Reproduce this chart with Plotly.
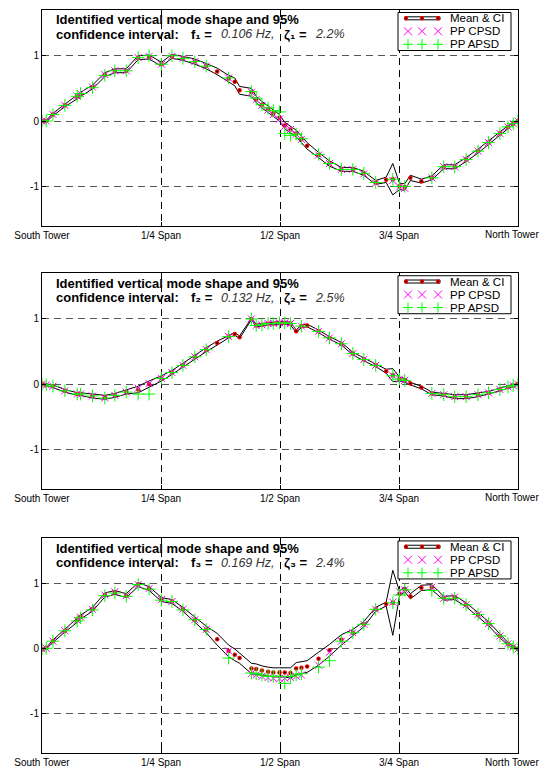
import plotly.graph_objects as go
from plotly.subplots import make_subplots

# ---------------- data ----------------
sensor_pos = [0.000, 0.009, 0.023, 0.048, 0.074, 0.081, 0.106, 0.132, 0.153, 0.177,
              0.202, 0.225, 0.251, 0.273, 0.296, 0.321, 0.345, 0.368, 0.392, 0.405,
              0.415, 0.440, 0.450, 0.462, 0.475, 0.486, 0.499, 0.510, 0.522, 0.534,
              0.545, 0.557, 0.581, 0.604, 0.629, 0.653, 0.676, 0.701, 0.723, 0.737,
              0.751, 0.762, 0.774, 0.797, 0.819, 0.844, 0.867, 0.891, 0.916, 0.938,
              0.962, 0.979, 0.990, 1.000]

tick_vals = [0, 0.25, 0.5, 0.75, 1]
tick_labels = ["South Tower", "1/4 Span", "1/2 Span", "3/4 Span", "North Tower"]

mode_freq = ["0.106 Hz,", "0.132 Hz,", "0.169 Hz,"]
mode_damp = ["2.2%", "2.5%", "2.4%"]
mode_sub = ["\u2081", "\u2082", "\u2083"]

m1_mean = [0.00, 0.00, 0.10, 0.24, 0.37, 0.41, 0.52, 0.71, 0.77, 0.77,
           0.97, 0.98, 0.87, 0.99, 0.96, 0.91, 0.84, 0.76, 0.65, 0.60,
           0.47, 0.44, 0.33, 0.25, 0.18, 0.12, 0.05, -0.07, -0.13, -0.19,
           -0.28, -0.38, -0.52, -0.65, -0.74, -0.74, -0.80, -0.94, -0.90, -0.89,
           -1.00, -1.01, -0.87, -0.92, -0.87, -0.70, -0.70, -0.59, -0.46, -0.33,
           -0.19, -0.09, -0.04, 0.00]
m1_ci = [0.01, 0.01, 0.02, 0.02, 0.03, 0.03, 0.03, 0.03, 0.03, 0.03,
         0.03, 0.03, 0.03, 0.03, 0.03, 0.04, 0.04, 0.05, 0.05, 0.06,
         0.06, 0.06, 0.05, 0.05, 0.05, 0.05, 0.05, 0.05, 0.05, 0.05,
         0.05, 0.05, 0.04, 0.04, 0.03, 0.03, 0.03, 0.03, 0.04, 0.24,
         0.05, 0.05, 0.04, 0.03, 0.03, 0.03, 0.03, 0.03, 0.03, 0.03,
         0.03, 0.02, 0.01, 0.01]
m1_cpsd = [0.00, 0.00, 0.10, 0.24, 0.38, 0.42, 0.52, 0.71, 0.77, 0.77,
           0.97, 0.99, 0.87, 0.99, 0.96, 0.91, 0.84, None, 0.66, None,
           None, 0.44, 0.33, 0.24, 0.17, 0.10, 0.03, -0.08, -0.13, -0.20,
           -0.28, None, -0.52, -0.65, -0.74, -0.74, -0.81, -0.95, None, -0.91,
           -1.01, -1.03, None, None, -0.87, -0.70, -0.70, -0.59, -0.46, -0.33,
           -0.19, -0.09, -0.04, 0.00]
m1_apsd = [0.00, 0.00, 0.10, 0.24, 0.38, 0.42, 0.51, 0.70, 0.77, 0.77,
           0.97, 1.00, 0.87, 1.00, 0.96, 0.91, 0.84, None, 0.66, None,
           None, 0.45, 0.35, 0.25, 0.20, 0.16, 0.14, -0.19, -0.22, -0.20,
           -0.27, None, -0.51, -0.65, -0.74, -0.74, -0.80, -0.94, None, -0.89,
           -1.00, -1.00, None, None, -0.87, -0.70, -0.70, -0.59, -0.46, -0.33,
           -0.19, -0.09, -0.04, 0.00]

m2_mean = [0.00, -0.01, -0.03, -0.10, -0.15, -0.15, -0.18, -0.20, -0.17, -0.12,
           -0.08, 0.00, 0.09, 0.18, 0.29, 0.42, 0.53, 0.63, 0.73, 0.77,
           0.72, 1.00, 0.90, 0.91, 0.93, 0.93, 0.94, 0.94, 0.93, 0.81,
           0.89, 0.90, 0.81, 0.71, 0.62, 0.47, 0.38, 0.29, 0.20, 0.14,
           0.08, 0.06, 0.01, -0.05, -0.14, -0.16, -0.19, -0.19, -0.16, -0.13,
           -0.08, -0.04, -0.02, 0.00]
m2_ci = [0.01, 0.01, 0.02, 0.02, 0.02, 0.02, 0.03, 0.03, 0.03, 0.03,
         0.05, 0.05, 0.04, 0.03, 0.03, 0.03, 0.03, 0.03, 0.02, 0.02,
         0.02, 0.01, 0.02, 0.02, 0.02, 0.02, 0.02, 0.02, 0.02, 0.02,
         0.02, 0.02, 0.02, 0.02, 0.02, 0.02, 0.02, 0.02, 0.03, 0.10,
         0.03, 0.03, 0.02, 0.02, 0.02, 0.02, 0.03, 0.03, 0.03, 0.02,
         0.02, 0.02, 0.01, 0.01]
m2_cpsd = [0.00, -0.01, -0.03, -0.10, -0.15, -0.15, -0.18, -0.21, -0.17, -0.12,
           -0.06, 0.01, 0.09, 0.18, 0.29, 0.42, 0.53, None, 0.73, None,
           None, 1.00, 0.90, 0.91, 0.93, 0.93, 0.94, 0.94, 0.93, None,
           0.89, None, 0.81, 0.71, 0.62, 0.47, 0.38, 0.29, None, 0.13,
           0.08, 0.06, None, None, -0.14, -0.16, -0.19, -0.19, -0.16, -0.13,
           -0.08, -0.04, -0.02, 0.00]
m2_apsd = [0.00, -0.01, -0.03, -0.10, -0.15, -0.15, -0.18, -0.21, -0.17, -0.12,
           -0.15, -0.15, 0.09, 0.18, 0.29, 0.42, 0.53, None, 0.73, None,
           None, 1.00, 0.90, 0.91, 0.93, 0.93, 0.94, 0.94, 0.93, None,
           0.89, None, 0.81, 0.71, 0.62, 0.47, 0.38, 0.29, None, 0.13,
           0.08, 0.06, None, None, -0.14, -0.16, -0.19, -0.19, -0.16, -0.13,
           -0.08, -0.04, -0.02, 0.00]

m3_mean = [0.00, 0.01, 0.12, 0.28, 0.44, 0.49, 0.61, 0.83, 0.87, 0.82,
           0.99, 0.93, 0.76, 0.73, 0.61, 0.45, 0.30, 0.15, -0.03, -0.09,
           -0.14, -0.30, -0.31, -0.33, -0.35, -0.36, -0.36, -0.36, -0.37, -0.30,
           -0.29, -0.27, -0.15, -0.02, 0.14, 0.25, 0.38, 0.61, 0.69, 0.71,
           0.85, 0.92, 0.81, 0.94, 0.95, 0.78, 0.79, 0.68, 0.53, 0.39,
           0.20, 0.08, 0.03, 0.00]
m3_ci = [0.01, 0.01, 0.02, 0.02, 0.03, 0.03, 0.03, 0.03, 0.03, 0.03,
         0.03, 0.03, 0.03, 0.03, 0.03, 0.04, 0.05, 0.09, 0.09, 0.09,
         0.08, 0.08, 0.08, 0.07, 0.07, 0.07, 0.07, 0.07, 0.08, 0.09,
         0.09, 0.09, 0.10, 0.09, 0.08, 0.05, 0.04, 0.03, 0.03, 0.50,
         0.04, 0.04, 0.04, 0.04, 0.04, 0.03, 0.03, 0.03, 0.03, 0.03,
         0.03, 0.02, 0.01, 0.01]
m3_cpsd = [0.00, 0.01, 0.12, 0.28, 0.44, 0.49, 0.61, 0.83, 0.88, 0.82,
           0.99, 0.93, 0.76, 0.73, 0.61, 0.45, 0.30, None, -0.03, None,
           None, -0.38, -0.40, -0.42, -0.44, -0.45, -0.46, -0.45, -0.44, -0.42,
           -0.40, None, -0.25, -0.05, 0.12, 0.25, 0.38, 0.61, None, 0.72,
           0.88, 0.91, None, None, 0.95, 0.78, 0.80, 0.68, 0.53, 0.39,
           0.20, 0.08, 0.03, 0.00]
m3_apsd = [0.00, 0.01, 0.12, 0.28, 0.43, 0.48, 0.60, 0.82, 0.86, 0.81,
           0.99, 0.92, 0.75, 0.73, 0.60, 0.45, 0.30, None, -0.14, None,
           None, -0.37, -0.38, -0.40, -0.42, -0.42, -0.42, -0.53, -0.42, -0.40,
           -0.38, None, -0.28, -0.18, 0.12, 0.25, 0.38, 0.61, None, 0.71,
           0.83, 0.91, None, None, 0.90, 0.78, 0.78, 0.68, 0.53, 0.39,
           0.20, 0.08, 0.03, 0.00]

modes = [
    (m1_mean, m1_ci, m1_cpsd, m1_apsd),
    (m2_mean, m2_ci, m2_cpsd, m2_apsd),
    (m3_mean, m3_ci, m3_cpsd, m3_apsd),
]

# ---------------- figure geometry ----------------
# The page body has an 8px margin; the figure is sized so the page does not
# overflow the 550x777 window.
OFF = 8
W, H = 550 - OFF, 777 - 2 * OFF
PLOT_TOP, PLOT_BOTTOM = 10, 753          # window px
PLOT_LEFT, PLOT_RIGHT = 42, 518          # window px
ML, MR = PLOT_LEFT - OFF, W - (PLOT_RIGHT - OFF)
MT, MB = PLOT_TOP - OFF, H - (PLOT_BOTTOM - OFF)
PW = PLOT_RIGHT - PLOT_LEFT
PHT = PLOT_BOTTOM - PLOT_TOP
FONT = "Liberation Sans, Arial, Helvetica, sans-serif"
MAGENTA = "#FF00FF"
GREEN = "#00FF00"

ref_panels = [(10, 227), (275, 492), (542, 758)]
scale = (PLOT_BOTTOM - PLOT_TOP) / (758 - 10)
panels_px = [(PLOT_TOP + (t - 10) * scale, PLOT_TOP + (b - 10) * scale) for t, b in ref_panels]
domains = [[(PLOT_BOTTOM - b) / PHT, (PLOT_BOTTOM - t) / PHT] for t, b in panels_px]

fig = make_subplots(rows=3, cols=1)

for k, (mean, ci, cpsd, apsd) in enumerate(modes, start=1):
    upper = [m + c for m, c in zip(mean, ci)]
    lower = [m - c for m, c in zip(mean, ci)]
    fig.add_trace(go.Scatter(x=sensor_pos, y=upper, mode="lines",
                             line=dict(color="black", width=1), showlegend=False,
                             hoverinfo="skip"), row=k, col=1)
    fig.add_trace(go.Scatter(x=sensor_pos, y=lower, mode="lines",
                             line=dict(color="black", width=1), showlegend=False,
                             hoverinfo="skip"), row=k, col=1)
    fig.add_trace(go.Scatter(x=sensor_pos, y=mean, mode="markers",
                             marker=dict(symbol="circle", size=4.5, color="#FF0000",
                                         line=dict(width=0)),
                             showlegend=False), row=k, col=1)
    fig.add_trace(go.Scatter(x=sensor_pos, y=mean, mode="markers",
                             marker=dict(symbol="circle", size=2, color="black",
                                         line=dict(width=0)),
                             showlegend=False), row=k, col=1)
    fig.add_trace(go.Scatter(x=sensor_pos, y=cpsd, mode="markers",
                             marker=dict(symbol="x-thin", size=7,
                                         line=dict(color=MAGENTA, width=1)),
                             showlegend=False), row=k, col=1)
    fig.add_trace(go.Scatter(x=sensor_pos, y=apsd, mode="markers",
                             marker=dict(symbol="cross-thin", size=9,
                                         line=dict(color=GREEN, width=1)),
                             showlegend=False), row=k, col=1)

    xa = "xaxis" if k == 1 else f"xaxis{k}"
    ya = "yaxis" if k == 1 else f"yaxis{k}"
    # last tick label is drawn as an annotation so it stays inside the window
    fig.layout[xa].update(
        domain=[0, 1], range=[0, 1], tickvals=tick_vals,
        ticktext=tick_labels[:-1] + [""],
        showgrid=True, gridcolor="#000000", griddash="7px,5px", gridwidth=1,
        zeroline=False, showline=True, linecolor="black", linewidth=1, mirror="ticks",
        ticks="inside", ticklen=4, tickcolor="black", automargin=False,
        tickfont=dict(family=FONT, size=10, color="black"))
    fig.layout[ya].update(
        domain=domains[k - 1], range=[-1.6, 1.7], tickvals=[-1, 0, 1],
        ticktext=["-1", "0", "1"],
        showgrid=True, gridcolor="#555555", griddash="7px,5px", gridwidth=1,
        zeroline=False, showline=True, linecolor="black", linewidth=1, mirror="ticks",
        ticks="inside", ticklen=4, tickcolor="black", automargin=False,
        tickfont=dict(family=FONT, size=10, color="black"))

# ---------------- titles & legends (layout decoration) ----------------
shapes = []
annotations = []
for k in range(1, 4):
    t, b = panels_px[k - 1]
    ph = b - t
    xr = "x domain" if k == 1 else f"x{k} domain"
    yr = "y domain" if k == 1 else f"y{k} domain"

    def fx(px):
        return px / PW

    def fy(px, ph=ph):
        return 1 - px / ph

    # last x tick label
    annotations.append(dict(
        xref=xr, yref=yr, x=fx(541 - PLOT_LEFT), y=fy(ph + 9), xanchor="right",
        yanchor="middle", text=tick_labels[-1], showarrow=False,
        font=dict(family=FONT, size=10, color="black")))

    tfont = dict(family=FONT, size=13, color="black")
    vfont = dict(family=FONT, size=12.5, color="#333333")
    L1, L2 = 9.8, 24.3
    # title text
    annotations.append(dict(
        xref=xr, yref=yr, x=fx(12), y=fy(L1), xanchor="left", yanchor="middle",
        text="<b>Identified vertical mode shape and 95%</b>", showarrow=False, font=tfont))
    annotations.append(dict(
        xref=xr, yref=yr, x=fx(12), y=fy(L2), xanchor="left", yanchor="middle",
        text="<b>confidence interval:</b>", showarrow=False, font=tfont))
    annotations.append(dict(
        xref=xr, yref=yr, x=fx(147), y=fy(L2), xanchor="left", yanchor="middle",
        text=f"<b>f{mode_sub[k-1]}\u00a0=</b>", showarrow=False, font=tfont))
    annotations.append(dict(
        xref=xr, yref=yr, x=fx(177), y=fy(L2), xanchor="left", yanchor="middle",
        text=f"<i>{mode_freq[k-1]}</i>", showarrow=False, font=vfont))
    annotations.append(dict(
        xref=xr, yref=yr, x=fx(240), y=fy(L2), xanchor="left", yanchor="middle",
        text=f"<b>\u03b6{mode_sub[k-1]}\u00a0=</b>", showarrow=False, font=tfont))
    annotations.append(dict(
        xref=xr, yref=yr, x=fx(271), y=fy(L2), xanchor="left", yanchor="middle",
        text=f"<i>{mode_damp[k-1]}</i>", showarrow=False, font=vfont))

    # legend box
    shapes.append(dict(type="rect", xref=xr, yref=yr, x0=fx(356), x1=fx(469),
                       y0=fy(40.5), y1=fy(2.5), fillcolor="white",
                       line=dict(color="black", width=1)))
    rows = [8.3, 21.3, 34.3]
    gx = [366, 380, 396]
    # Mean & CI sample
    r = rows[0]
    shapes.append(dict(type="rect", xref=xr, yref=yr, x0=fx(363), x1=fx(398),
                       y0=fy(r + 1.5), y1=fy(r - 1.5), fillcolor="white",
                       line=dict(color="black", width=1)))
    for c in [364, 380, 396]:
        shapes.append(dict(type="circle", xref=xr, yref=yr, x0=fx(c - 2.2), x1=fx(c + 2.2),
                           y0=fy(r + 2.2), y1=fy(r - 2.2), fillcolor="#FF0000",
                           line=dict(width=0)))
        shapes.append(dict(type="circle", xref=xr, yref=yr, x0=fx(c - 1), x1=fx(c + 1),
                           y0=fy(r + 1), y1=fy(r - 1), fillcolor="black",
                           line=dict(width=0)))
    # CPSD sample
    r = rows[1]
    for c in gx:
        shapes.append(dict(type="line", xref=xr, yref=yr, x0=fx(c - 4), x1=fx(c + 4),
                           y0=fy(r - 4), y1=fy(r + 4), line=dict(color=MAGENTA, width=1)))
        shapes.append(dict(type="line", xref=xr, yref=yr, x0=fx(c - 4), x1=fx(c + 4),
                           y0=fy(r + 4), y1=fy(r - 4), line=dict(color=MAGENTA, width=1)))
    # APSD sample
    r = rows[2]
    for c in gx:
        shapes.append(dict(type="line", xref=xr, yref=yr, x0=fx(c - 5), x1=fx(c + 5),
                           y0=fy(r), y1=fy(r), line=dict(color=GREEN, width=1)))
        shapes.append(dict(type="line", xref=xr, yref=yr, x0=fx(c), x1=fx(c),
                           y0=fy(r - 5), y1=fy(r + 5), line=dict(color=GREEN, width=1)))
    for r, label in zip(rows, ["Mean &amp; CI", "PP CPSD", "PP APSD"]):
        annotations.append(dict(
            xref=xr, yref=yr, x=fx(406), y=fy(r), xanchor="left", yanchor="middle",
            text=label, showarrow=False, font=dict(family=FONT, size=11.5, color="black")))

fig.update_layout(
    template="none",
    width=W, height=H, margin=dict(l=ML, r=MR, t=MT, b=MB, autoexpand=False),
    paper_bgcolor="white", plot_bgcolor="white",
    showlegend=False, shapes=shapes, annotations=annotations,
    font=dict(family=FONT, color="black"),
)

fig.write_html("out.html")
